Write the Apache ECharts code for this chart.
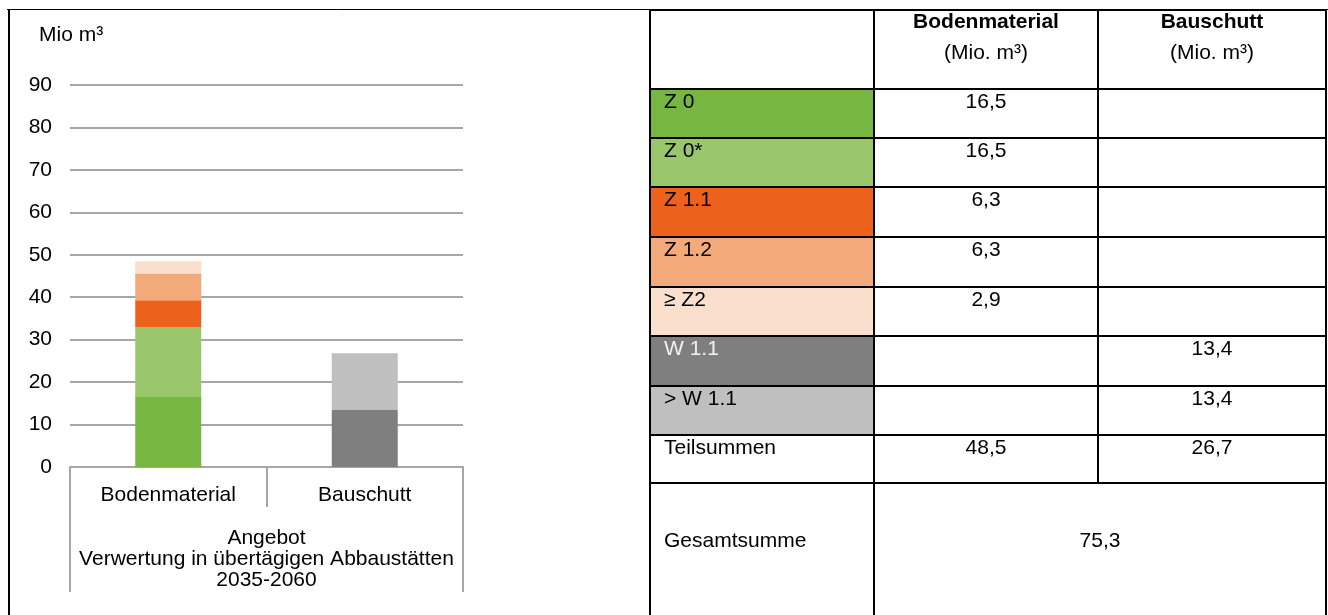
<!DOCTYPE html>
<html lang="de">
<head>
    <meta charset="utf-8">
    <title>Angebot Verwertung</title>
    <script src="https://cdn.jsdelivr.net/npm/echarts@6/dist/echarts.min.js"></script>
    <style type="text/css">
        html, body {
            margin: 0;
            padding: 0;
            background: #ffffff;
        }

        #main {
            width: 1328px;
            height: 615px;
        }
    </style>
</head>
<body>
<div id="main"></div>
<script type="text/javascript">
    // Daten aus der Abbildung
    const categories = ['Bodenmaterial', 'Bauschutt'];
    const groupLabel = 'Angebot\nVerwertung in übertägigen Abbaustätten\n2035-2060';
    const classes = ['Z 0', 'Z 0*', 'Z 1.1', 'Z 1.2', '≥ Z2', 'W 1.1', '> W 1.1'];
    const bodenValues = [16.5, 16.5, 6.3, 6.3, 2.9, null, null];
    const bauValues = [null, null, null, null, null, 13.4, 13.4];
    const classColors = ['#76b741', '#9ac66c', '#ec621c', '#f3aa7b', '#fae0cc', '#7f7f7f', '#bfbfbf'];
    const subTotals = [48.5, 26.7];
    const grandTotal = 75.3;
    const yTicks = [0, 10, 20, 30, 40, 50, 60, 70, 80, 90];

    const font = '"Liberation Sans", Arial, sans-serif';
    const fs = 21;
    const fmt = v => v.toFixed(1).replace('.', ',');

    let myChart = echarts.init(document.getElementById('main'));

    let series = [];
    for (let i = 0; i < classes.length; i++) {
        series.push({
            name: classes[i],
            type: 'bar',
            stack: 'total',
            barWidth: 66,
            xAxisIndex: 0,
            itemStyle: {color: classColors[i]},
            data: [bodenValues[i] === null ? '-' : bodenValues[i], bauValues[i] === null ? '-' : bauValues[i]]
        });
    }

    // Tabelle rechts
    const rowY = [10, 89, 138, 187, 237, 287, 336, 386, 435, 483, 615];
    const colX = [650, 874, 1098, 1326];
    const colMid = [(colX[1] + colX[2]) / 2, (colX[2] + colX[3]) / 2];
    let g = [];
    const txt = (text, x, y, opt) => g.push({
        type: 'text', silent: true,
        style: Object.assign({text: text, x: x, y: y, font: fs + 'px ' + font, fill: '#000', align: 'center', verticalAlign: 'middle'}, opt || {})
    });
    const line = (x1, y1, x2, y2, w) => g.push({
        type: 'line', silent: true,
        shape: {x1: x1, y1: y1, x2: x2, y2: y2},
        style: {stroke: '#000', lineWidth: w}
    });

    for (let i = 0; i < classes.length; i++) {
        g.push({
            type: 'rect', silent: true,
            shape: {x: colX[0], y: rowY[i + 1], width: colX[1] - colX[0], height: rowY[i + 2] - rowY[i + 1]},
            style: {fill: classColors[i]}
        });
    }
    // Rahmen links
    line(7, 9.5, 1328, 9.5, 1);
    line(9, 9, 9, 615, 2);
    // Tabellenlinien
    for (let r = 0; r < rowY.length - 1; r++) {
        line(colX[0], rowY[r], colX[3], rowY[r], 2);
    }
    line(colX[0], rowY[0], colX[0], 615, 2);
    line(colX[1], rowY[0], colX[1], 615, 2);
    line(colX[2], rowY[0], colX[2], rowY[9], 2);
    line(colX[3], rowY[0], colX[3], 615, 2);

    // Kopf
    txt(categories[0], colMid[0], 22, {font: 'bold ' + fs + 'px ' + font});
    txt('(Mio. m³)', colMid[0], 53);
    txt(categories[1], colMid[1], 22, {font: 'bold ' + fs + 'px ' + font});
    txt('(Mio. m³)', colMid[1], 53);

    for (let i = 0; i < classes.length; i++) {
        let y = rowY[i + 1] + 13;
        txt(classes[i], 664, y, {align: 'left', fill: i === 5 ? '#f2f2f2' : '#000'});
        if (bodenValues[i] !== null) txt(fmt(bodenValues[i]), colMid[0], y);
        if (bauValues[i] !== null) txt(fmt(bauValues[i]), colMid[1], y);
    }
    txt('Teilsummen', 664, rowY[8] + 13, {align: 'left'});
    txt(fmt(subTotals[0]), colMid[0], rowY[8] + 13);
    txt(fmt(subTotals[1]), colMid[1], rowY[8] + 13);
    txt('Gesamtsumme', 664, 541, {align: 'left'});
    txt(fmt(grandTotal), (colX[1] + colX[3]) / 2, 541);

    let option = {
        animation: false,
        textStyle: {fontFamily: font},
        title: {
            text: 'Mio m³',
            left: 34,
            top: 20,
            textStyle: {fontSize: fs, fontWeight: 'normal', color: '#000', fontFamily: font}
        },
        grid: {left: 70, right: 865, top: 85, bottom: 148},
        xAxis: [{
            type: 'category',
            data: categories,
            axisLine: {lineStyle: {color: '#a6a6a6', width: 2}},
            axisTick: {show: true, length: 40, lineStyle: {color: '#a6a6a6', width: 2}},
            axisLabel: {fontSize: fs, color: '#000', margin: 18, interval: 0}
        }, {
            type: 'category',
            position: 'bottom',
            data: [groupLabel],
            axisLine: {show: false},
            axisTick: {show: true, length: 125, lineStyle: {color: '#a6a6a6', width: 2}},
            axisLabel: {fontSize: fs, color: '#000', margin: 61, lineHeight: 21, interval: 0}
        }],
        yAxis: {
            type: 'value',
            min: yTicks[0],
            max: yTicks[yTicks.length - 1],
            interval: 10,
            axisLine: {show: false},
            axisTick: {show: false},
            splitLine: {lineStyle: {color: '#a6a6a6', width: 2}},
            axisLabel: {fontSize: fs, color: '#000', margin: 18}
        },
        series: series,
        graphic: g
    };
    myChart.setOption(option);
</script>
</body>
</html>
